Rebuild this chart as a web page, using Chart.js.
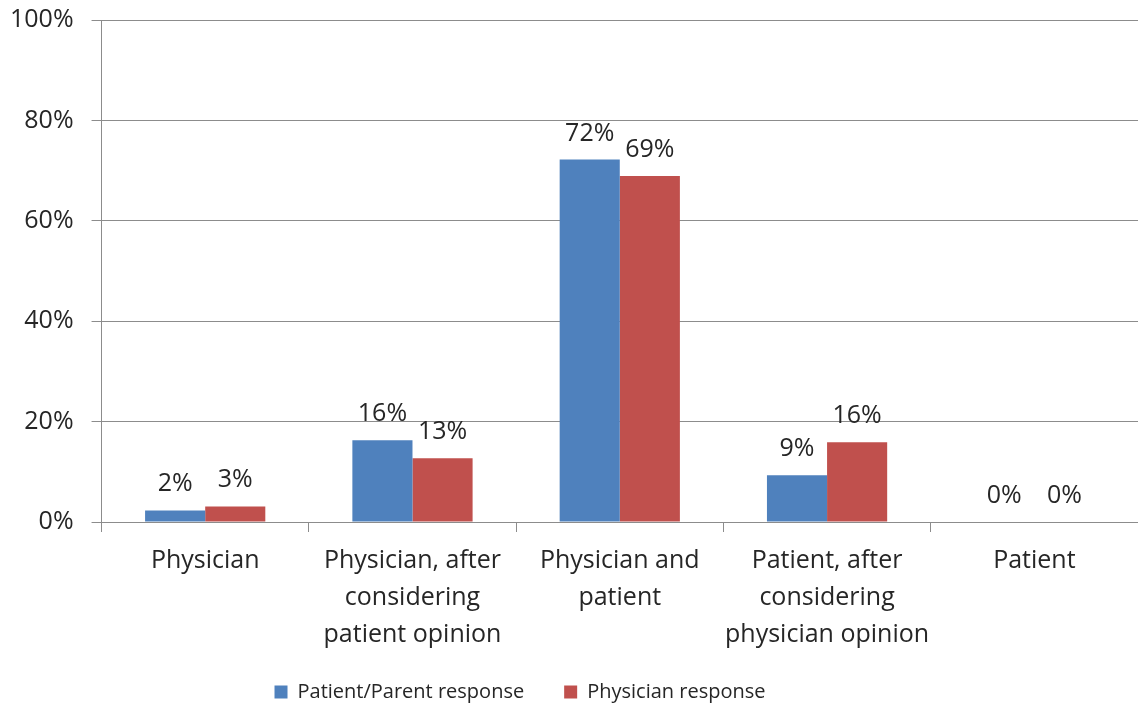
<!DOCTYPE html>
<html>
<head>
<meta charset="utf-8">
<script src="https://cdn.jsdelivr.net/npm/chart.js@4.4.1/dist/chart.umd.min.js"></script>
<style>
  html, body { margin:0; padding:0; background:#fff; }
  #wrap { width:1138px; height:708px; }
</style>
</head>
<body>
<div id="wrap"><canvas id="chart" width="1138" height="708"></canvas></div>
<script>
// Who should make the decision
const categories = [
  'Physician',
  ['Physician, after', 'considering', 'patient opinion'],
  ['Physician and', 'patient'],
  ['Patient, after', 'considering', 'physician opinion'],
  'Patient'
];
const patientParent = [2.3, 16.3, 72.2, 9.3, 0];
const physician     = [3.1, 12.7, 68.9, 15.9, 0];
const seriesNames = ['Patient/Parent response', 'Physician response'];
const yTicks = [0, 20, 40, 60, 80, 100];

const FONT = "'Open Sans', 'Noto Sans', sans-serif";
const TXT = '#262626';
const AXIS = '#8c8c8c';
const FS = 25;

// labels above each bar
const barLabels = {
  id: 'barLabels',
  afterDatasetsDraw(chart){
    const ctx = chart.ctx;
    ctx.save();
    ctx.font = FS + 'px ' + FONT;
    ctx.fillStyle = TXT;
    ctx.textAlign = 'center';
    ctx.textBaseline = 'alphabetic';
    chart.data.datasets.forEach((ds, i) => {
      chart.getDatasetMeta(i).data.forEach((bar, j) => {
        ctx.fillText(Math.round(ds.data[j]) + '%', bar.x, bar.y - 19);
      });
    });
    ctx.restore();
  }
};

// legend sits a bit left of centre and tucked close under the labels in the original
const legendShift = {
  id: 'legendShift',
  afterLayout(chart){
    const lg = chart.legend;
    lg.left -= 45; lg.right -= 45;
    lg.top -= 11; lg.bottom -= 11;
  }
};

new Chart(document.getElementById('chart').getContext('2d'), {
  type: 'bar',
  data: {
    labels: categories,
    datasets: [
      { label: seriesNames[0], data: patientParent, backgroundColor: '#4f81bd' },
      { label: seriesNames[1], data: physician, backgroundColor: '#c0504d' }
    ]
  },
  options: {
    responsive: false,
    animation: false,
    layout: { padding: { top: 0, right: 0, left: -8, bottom: -15 } },
    datasets: { bar: { categoryPercentage: 0.58, barPercentage: 1 } },
    plugins: {
      legend: {
        position: 'bottom',
        labels: { boxWidth: 13, boxHeight: 13, padding: 40, color: TXT, font: { family: FONT, size: 20 } }
      },
      tooltip: { enabled: false }
    },
    scales: {
      x: {
        afterFit: s => { s.height = 131; },
        grid: { drawOnChartArea: false, color: AXIS, tickLength: 10, offset: true },
        border: { color: AXIS },
        ticks: { color: TXT, font: { family: FONT, size: FS, lineHeight: 1.48 }, padding: 10, maxRotation: 0, autoSkip: false }
      },
      y: {
        min: 0, max: 100,
        afterBuildTicks: axis => { axis.ticks = yTicks.map(v => ({ value: v })); },
        afterFit: s => { s.paddingTop = 20; },
        grid: { color: AXIS, tickLength: 10 },
        border: { color: AXIS },
        ticks: { color: TXT, font: { family: FONT, size: FS }, padding: 18, callback: v => v + '%' }
      }
    }
  },
  plugins: [barLabels, legendShift]
});
</script>
</body>
</html>
